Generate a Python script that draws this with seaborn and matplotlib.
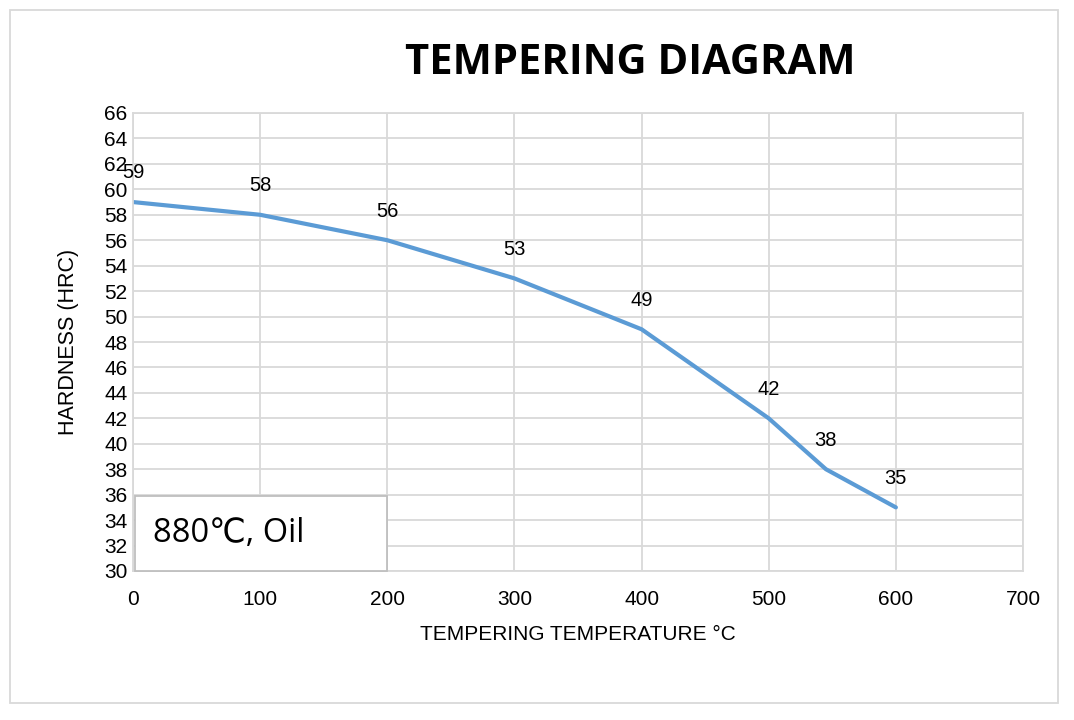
import pandas as pd
import matplotlib.pyplot as plt
import seaborn as sns
from matplotlib.patches import Rectangle

# Tempering data
temperature = [0, 100, 200, 300, 400, 500, 545, 600]
hardness = [59, 58, 56, 53, 49, 42, 38, 35]

df = pd.DataFrame({'Temperature': temperature, 'Hardness': hardness})

sns.set_style("white")
plt.rcParams['font.family'] = ['Liberation Sans', 'DejaVu Sans']
plt.rcParams['text.color'] = 'black'
plt.rcParams['axes.labelcolor'] = 'black'

fig = plt.figure(figsize=(10.74, 7.2), dpi=100)
ax = fig.add_axes([133 / 1074, 1 - 571 / 720, (1023 - 133) / 1074, (571 - 113) / 720])

grid_c = '#D9D9D9'
sns.lineplot(x='Temperature', y='Hardness', data=df, ax=ax, color='#5B9BD5', linewidth=3.0)

ax.set_xlim(0, 700)
ax.set_ylim(30, 66)
ax.set_xticks(range(0, 701, 100))
ax.set_yticks(range(30, 67, 2))
ax.grid(True, color=grid_c, linewidth=1.3)
ax.set_axisbelow(True)
for s in ax.spines.values():
    s.set_color(grid_c)
    s.set_linewidth(1.3)
ax.tick_params(axis='both', length=0, labelsize=15, colors='black')
ax.tick_params(axis='y', pad=4)
ax.tick_params(axis='x', pad=14)

ax.set_xlabel("TEMPERING TEMPERATURE °C", fontsize=15, labelpad=11)
ax.set_ylabel("HARDNESS (HRC)", fontsize=15.5, labelpad=18)

# data labels above each point
for t, h in zip(temperature, hardness):
    ax.annotate(str(h), (t, h), textcoords='offset points', xytext=(0, 21),
                ha='center', va='center', fontsize=14.5)

# condition box
box_ax = Rectangle((135 / 1074, 1 - 571 / 720), (387 - 135) / 1074, (571 - 496) / 720,
                   transform=fig.transFigure, facecolor='white', edgecolor='#BFBFBF',
                   linewidth=1.3, zorder=5)
fig.patches.append(box_ax)
fig.text(153 / 1074, 1 - 534 / 720, "880℃, Oil", fontsize=23.5, va='center', ha='left',
         family=['Open Sans', 'DejaVu Sans'], zorder=6)

# title
fig.text(630 / 1074, 1 - 63 / 720, "TEMPERING DIAGRAM",
         fontsize=30, fontweight='bold', ha='center', va='center',
         family=['Open Sans', 'DejaVu Sans'])

# outer chart border
border = Rectangle((10 / 1074, 1 - 703 / 720), (1058 - 10) / 1074, (703 - 10) / 720,
                   transform=fig.transFigure, facecolor='none', edgecolor='#D9D9D9',
                   linewidth=1.3)
fig.patches.append(border)

fig.savefig("out.png", dpi=100)
